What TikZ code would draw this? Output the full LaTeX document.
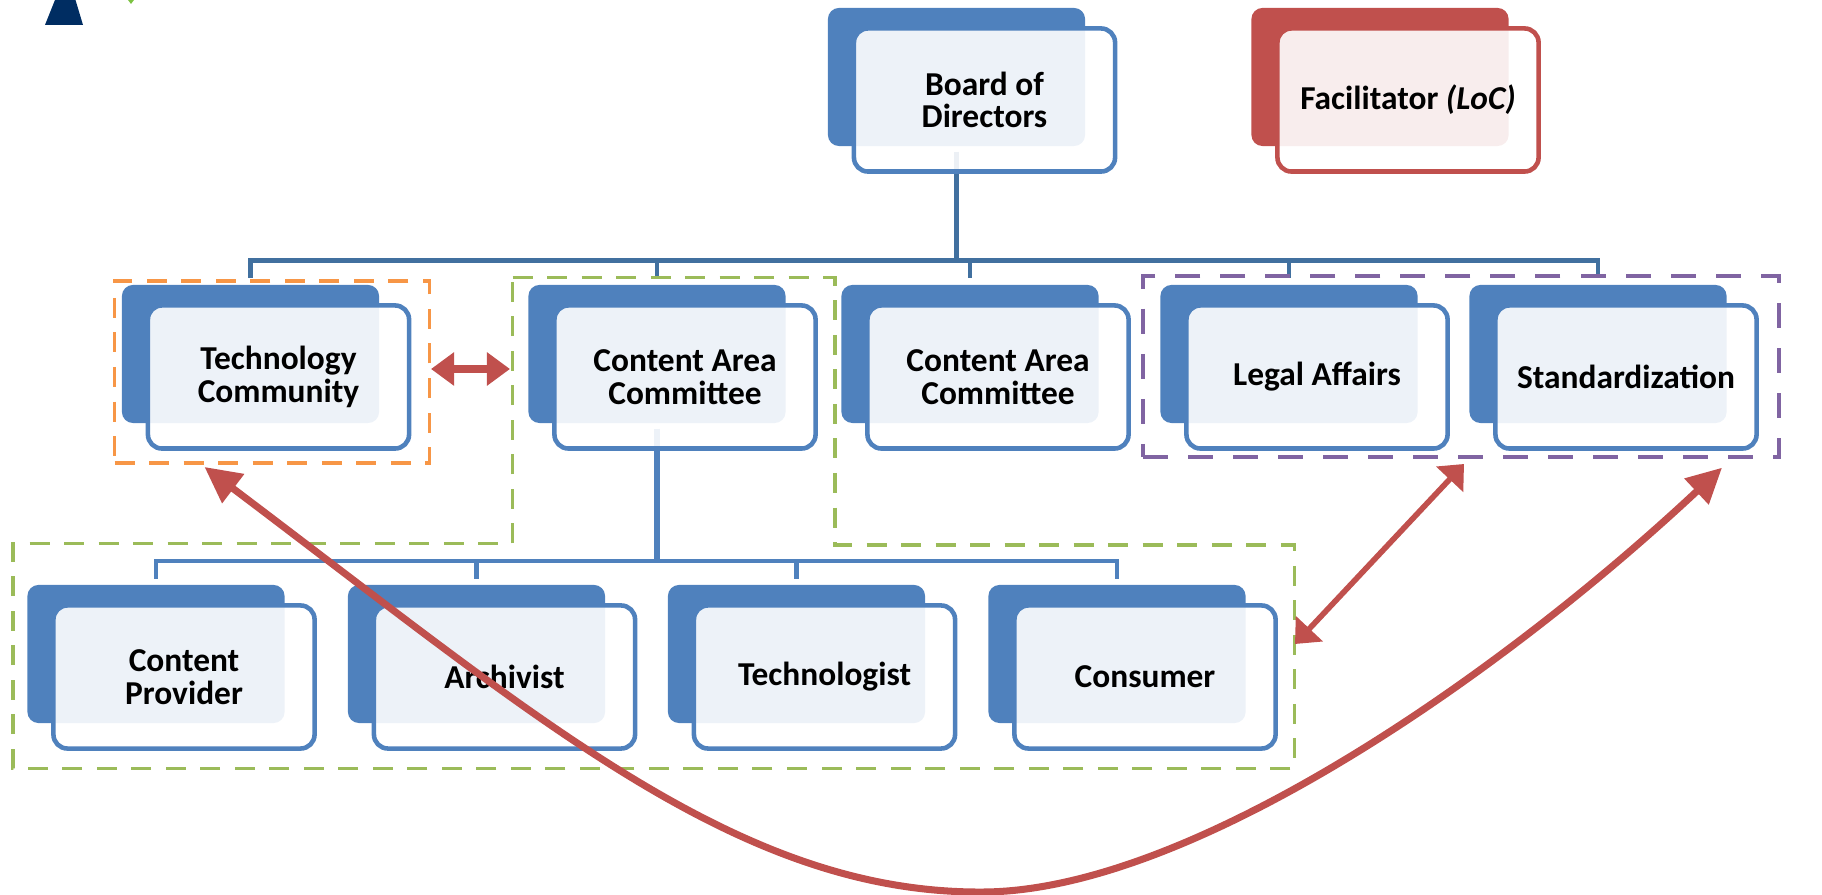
\documentclass[tikz,border=0pt]{standalone}
\usepackage{xcolor}
\usepackage{fontspec}
\setmainfont{Carlito}
\usetikzlibrary{arrows.meta}
\definecolor{boxblue}{HTML}{4F81BD}
\definecolor{boxred}{HTML}{C0504D}
\definecolor{busblue}{HTML}{41709F}
\definecolor{dashorange}{HTML}{F79646}
\definecolor{dashgreen}{HTML}{9BBB59}
\definecolor{dashpurple}{HTML}{8064A2}
\tikzset{
  backbox/.style={fill=#1, rounded corners=.11cm, minimum width=2.57cm, minimum height=1.38cm, inner sep=0},
  frontbox/.style={draw=#1, line width=1.3pt, fill=white, fill opacity=.9, text opacity=1, rounded corners=.14cm,
    minimum width=2.61cm, minimum height=1.43cm, inner sep=0, align=center, font=\fontsize{9.5}{9.2}\selectfont\bfseries},
  busline/.style={draw=busblue, line width=1.5pt, shorten <=.05cm},
  groupbox/.style={draw=#1, line width=1pt, dash pattern=on .2cm off .145cm, inner sep=0},
  redarrow/.style={draw=boxred, line width=1.6pt},
}
\def\boxlist{board/984.5/100/boxblue/{Board of\\Directors},
  facil/1408/100/boxred/{Facilitator \textit{(LoC)}},
  tech/278.5/377/boxblue/{Technology\\Community},
  contenta/685/377/boxblue/{Content Area\\Committee},
  contentb/998/377/boxblue/{Content Area\\Committee},
  legal/1317/377/boxblue/{Legal Affairs},
  stand/1626/377/boxblue/{Standardization},
  provider/184/677/boxblue/{Content\\Provider},
  archivist/504.5/677/boxblue/{Archivist},
  technologist/824.5/677/boxblue/{Technologist},
  consumer/1145/677/boxblue/{Consumer}}
\begin{document}
\begin{tikzpicture}[x=.01cm,y=-.01cm]
\useasboundingbox (0,0) rectangle (1822,895);
\fill[fill={rgb,255:red,0;green,45;blue,98}] (55,0) -- (75.5,0) -- (83,25) -- (45,25) -- cycle;
\fill[fill={rgb,255:red,124;green,194;blue,66}] (128,0) -- (134,0) -- (131,4) -- cycle;
\foreach \n/\x/\y/\c/\t in \boxlist {
 \node[backbox=\c] (\n back) at (\x-28,\y-23) {};
}
\coordinate (topbus) at (boardback.south |- 0,260.5);
\coordinate (lowbus) at (contentaback.south |- 0,561);
\draw[busline] (boardback.south) -- (topbus);
\draw[busline, draw=boxblue] (contentaback.south) -- (lowbus);
\foreach \n in {techback,contentaback,contentbback,legalback,standback} {
 \draw[busline, shorten <=0, shorten >=.06cm, line width=1.3pt] (topbus) -| (\n.north);
}
\foreach \n in {providerback,archivistback,technologistback,consumerback} {
 \draw[busline, draw=boxblue, shorten <=0, shorten >=.05cm, line width=1.3pt] (lowbus) -| (\n.north);
}
\foreach \n/\x/\y/\c/\t in \boxlist {
 \node[frontbox=\c] (\n) at (\x,\y) {\t};
}
\node[groupbox=dashorange, minimum width=3.145cm, minimum height=1.82cm] (techgroup) at (272,372) {};
\node[groupbox=dashpurple, line width=1.25pt, dash pattern=on .25cm off .2cm, minimum width=6.356cm, minimum height=1.81cm] (standgroup) at (1461,366.5) {};
\draw[groupbox=dashgreen, line width=.95pt] (512.5,277.7) -- (835,277.7) -- (835,545) -- (1294.5,545) -- (1294.5,768.7) -- (13,768.7) -- (13,543.7) -- (512.5,543.7) -- cycle;
\coordinate (techgap) at (431,369);
\coordinate (contentgap) at (510,369);
\coordinate (consumergap) at (1295,644);
\coordinate (legalgap) at (1464,464);
\coordinate (techtip) at (204.5,467);
\coordinate (standtip) at (1722,467.7);
\coordinate (lowpoint) at (986,892);
\draw[redarrow, line width=2pt, {Triangle[length=.23cm,width=.32cm]}-{Triangle[length=.23cm,width=.32cm]}] (techgap) -- (contentgap);
\draw[redarrow, {Triangle[length=.21cm,width=.36cm]}-{Triangle[length=.21cm,width=.36cm]}] (consumergap) -- (legalgap);
\draw[redarrow, line width=2pt, {Triangle[length=.36cm,width=.35cm]}-{Triangle[length=.35cm,width=.34cm]}] (techtip) .. controls (540,720) and (740,895) .. (lowpoint) .. controls (1190,889) and (1495,680) .. (standtip);
\end{tikzpicture}
\end{document}
